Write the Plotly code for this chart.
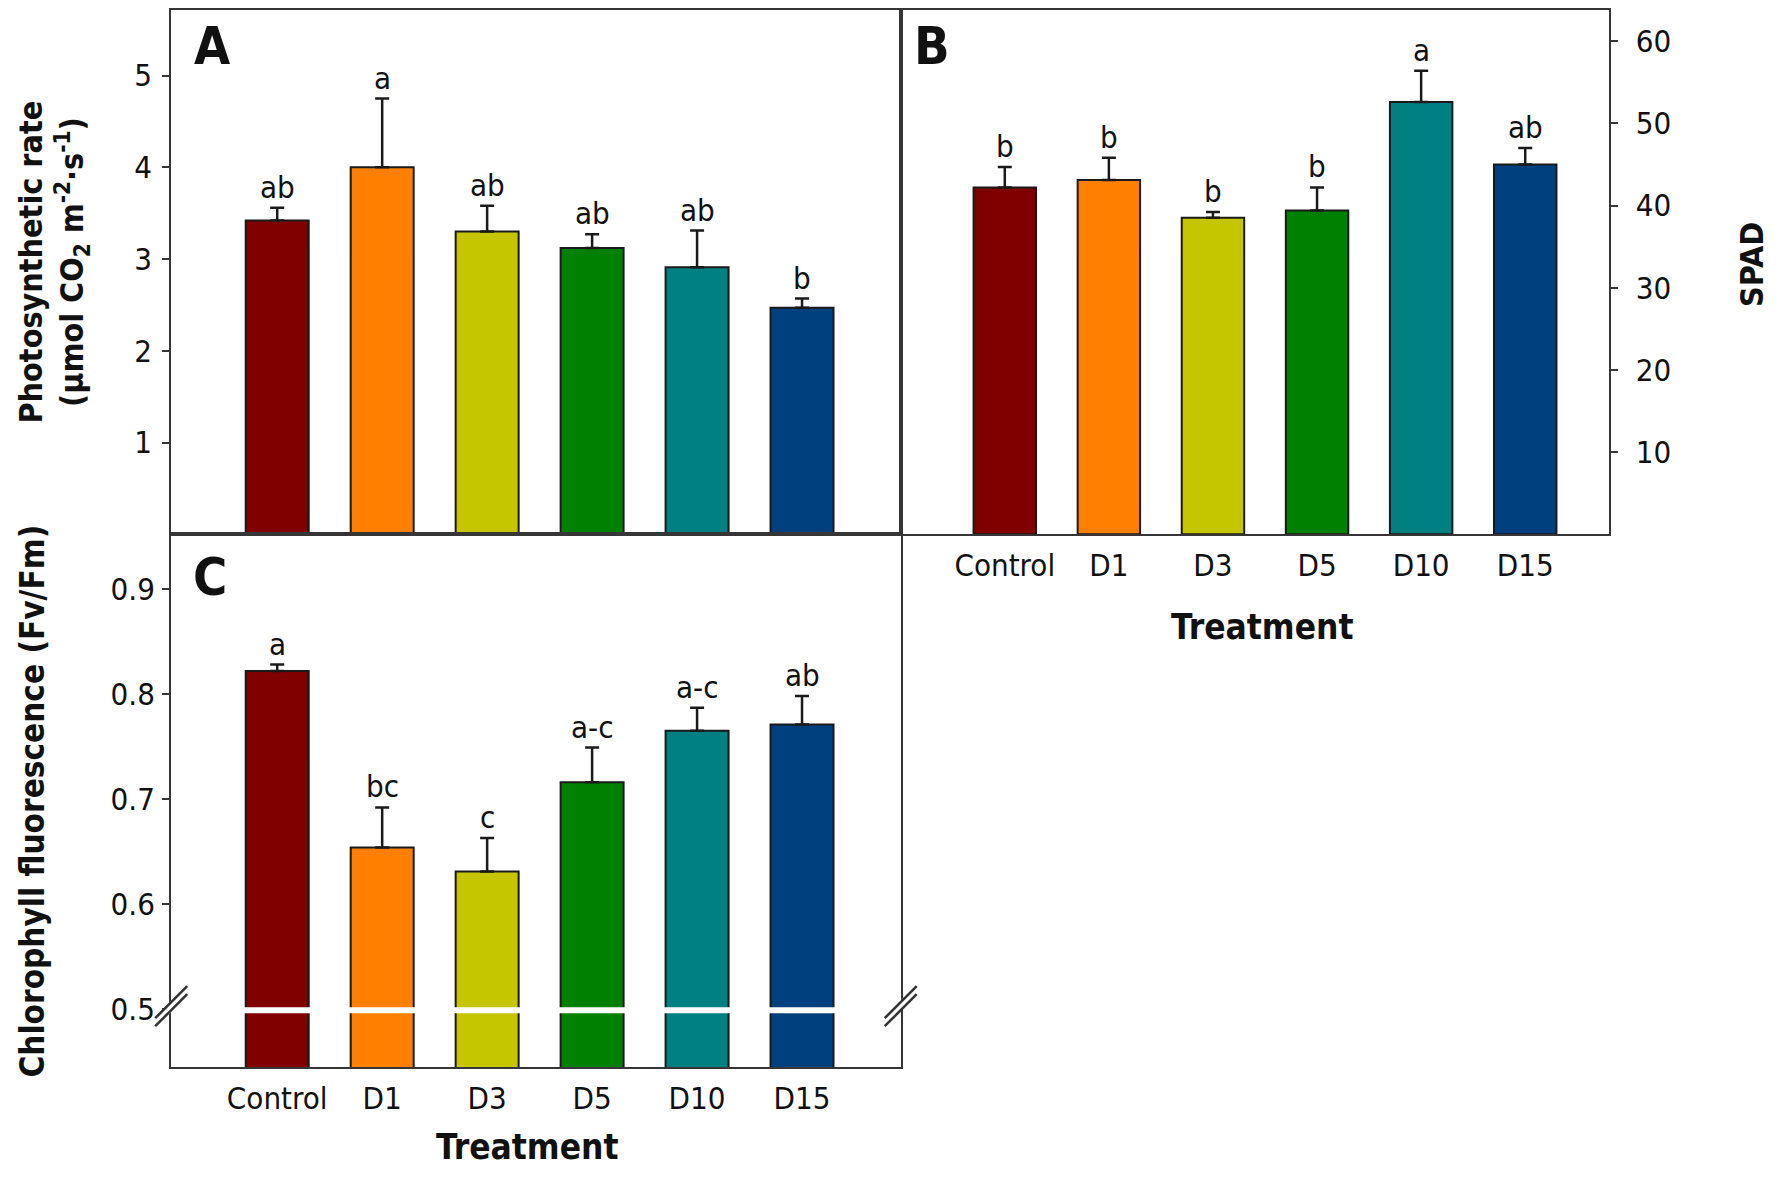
import plotly.graph_objects as go

# ---------------- data ----------------
treatments = ["Control", "D1", "D3", "D5", "D10", "D15"]
bar_colors = ["#800000", "#ff8000", "#c6c600", "#008000", "#008080", "#00407f"]

photo_mean = [3.42, 4.00, 3.30, 3.12, 2.91, 2.47]
photo_err = [0.14, 0.75, 0.28, 0.15, 0.40, 0.10]
photo_letters = ["ab", "a", "ab", "ab", "ab", "b"]

spad_mean = [42.2, 43.1, 38.5, 39.4, 52.6, 45.0]
spad_err = [2.5, 2.7, 0.7, 2.8, 3.8, 2.0]
spad_letters = ["b", "b", "b", "b", "a", "ab"]

fvfm_mean = [0.822, 0.654, 0.631, 0.716, 0.765, 0.771]
fvfm_err = [0.006, 0.038, 0.032, 0.033, 0.022, 0.027]
fvfm_letters = ["a", "bc", "c", "a-c", "a-c", "ab"]

photo_ticks = [1, 2, 3, 4, 5]
spad_ticks = [10, 20, 30, 40, 50, 60]
fvfm_ticks = [0.5, 0.6, 0.7, 0.8, 0.9]
fvfm_ticklabels = ["0.5", "0.6", "0.7", "0.8", "0.9"]
fvfm_break = 0.499

# ---------------- style / geometry ----------------
FONT = "Liberation Sans Narrow, Arial Narrow, DejaVu Sans Condensed, Liberation Sans, sans-serif"
LINE = "#363636"
PAGE_OFF = 8          # default page margin of the html body
FW, FH = 1790 - 2 * PAGE_OFF, 1180 - 2 * PAGE_OFF


def xf(px):
    return (px - PAGE_OFF) / FW


def yf(px):
    return 1 - (px - PAGE_OFF) / FH


xA = [xf(171.2), xf(900.7)]
xB = [xf(900.7), xf(1608.5)]
yTop = [yf(534.3), yf(9.5)]
yBot = [yf(1067.4), yf(534.3)]

fig = go.Figure()


def add_bars(means, errs, xa, ya):
    fig.add_trace(go.Bar(
        x=treatments, y=means, xaxis=xa, yaxis=ya,
        width=0.6,
        marker=dict(color=bar_colors, line=dict(color="#1a1a1a", width=2)),
        error_y=dict(type="data", symmetric=False, array=errs,
                     arrayminus=[0] * len(errs), color="#1a1a1a",
                     thickness=2.5, width=7),
        showlegend=False, hoverinfo="skip",
    ))


add_bars(photo_mean, photo_err, "x", "y")
add_bars(spad_mean, spad_err, "x2", "y2")
add_bars(fvfm_mean, fvfm_err, "x3", "y3")

TICKSIZE = 31
axis_common = dict(showline=True, linecolor=LINE, linewidth=2.2, mirror=True,
                   showgrid=False, zeroline=False,
                   tickfont=dict(family=FONT, size=TICKSIZE, color="#111"))

fig.update_layout(
    width=FW, height=FH,
    margin=dict(l=0, r=0, t=0, b=0),
    paper_bgcolor="white", plot_bgcolor="white",
    xaxis=dict(domain=xA, anchor="y", range=[-1.01, 5.94], showticklabels=False,
               ticks="", **axis_common),
    yaxis=dict(domain=yTop, anchor="x", range=[0, 5.72], tickvals=photo_ticks,
               ticks="outside", ticklen=7, tickwidth=2, tickcolor=LINE,
               ticklabelstandoff=4, **axis_common),
    xaxis2=dict(domain=xB, anchor="y2", range=[-1.0, 5.8], ticks="",
                ticklabelstandoff=2, **axis_common),
    yaxis2=dict(domain=yTop, anchor="x2", side="right", range=[0, 63.85],
                tickvals=spad_ticks, ticks="outside", ticklen=7, tickwidth=2,
                tickcolor=LINE, ticklabelstandoff=12, **axis_common),
    xaxis3=dict(domain=xA, anchor="y3", range=[-1.01, 5.94], ticks="",
                ticklabelstandoff=2, **axis_common),
    yaxis3=dict(domain=yBot, anchor="x3", range=[0.4446, 0.952],
                tickvals=fvfm_ticks, ticktext=fvfm_ticklabels,
                ticks="outside", ticklen=7, tickwidth=2, tickcolor=LINE,
                ticklabelstandoff=1, **axis_common),
)


# significance letters
def add_letters(means, errs, letters, xr, yr):
    for cat, m, e, t in zip(treatments, means, errs, letters):
        fig.add_annotation(x=cat, y=m + e, xref=xr, yref=yr, text=t,
                           showarrow=False, xanchor="center", yanchor="bottom",
                           yshift=1, font=dict(family=FONT, size=31, color="#111"))


add_letters(photo_mean, photo_err, photo_letters, "x", "y")
add_letters(spad_mean, spad_err, spad_letters, "x2", "y2")
add_letters(fvfm_mean, fvfm_err, fvfm_letters, "x3", "y3")


def label(text, px, py, size, angle=0):
    fig.add_annotation(x=xf(px), y=yf(py), xref="paper", yref="paper",
                       text=f"<b>{text}</b>", showarrow=False,
                       xanchor="center", yanchor="middle", textangle=angle,
                       font=dict(family=FONT, size=size, color="#111"))


label("A", 212.3, 45.7, 52)
label("B", 931.5, 45.7, 52)
label("C", 210.0, 576.5, 52)
label("Photosynthetic rate<br>(μmol CO<sub>2</sub> m<sup>-2</sup>·s<sup>-1</sup>)",
      52.5, 262.0, 32, -90)
label("Chlorophyll fluorescence (Fv/Fm)", 31.5, 801.0, 33, -90)
label("SPAD", 1752.0, 265.0, 32, -90)
label("Treatment", 1262.6, 626.7, 35)
label("Treatment", 527.4, 1147.3, 35)

# axis break on panel C
fig.add_shape(type="line", xref="x3", yref="y3", x0=-0.45, x1=5.45,
              y0=fvfm_break, y1=fvfm_break, line=dict(color="white", width=6),
              layer="above")
for xp in (xA[0], xA[1]):
    fig.add_shape(type="line", xref="paper", yref="y3", xsizemode="pixel",
                  ysizemode="pixel", xanchor=xp, yanchor=fvfm_break,
                  x0=-10, x1=10, y0=-8, y1=16, line=dict(color="white", width=7),
                  layer="above")
    for off in (4, -4):
        fig.add_shape(type="line", xref="paper", yref="y3", xsizemode="pixel",
                      ysizemode="pixel", xanchor=xp, yanchor=fvfm_break,
                      x0=-16, x1=16, y0=-12 + off, y1=20 + off,
                      line=dict(color="#333", width=2.5), layer="above")

fig.write_html("out.html")
